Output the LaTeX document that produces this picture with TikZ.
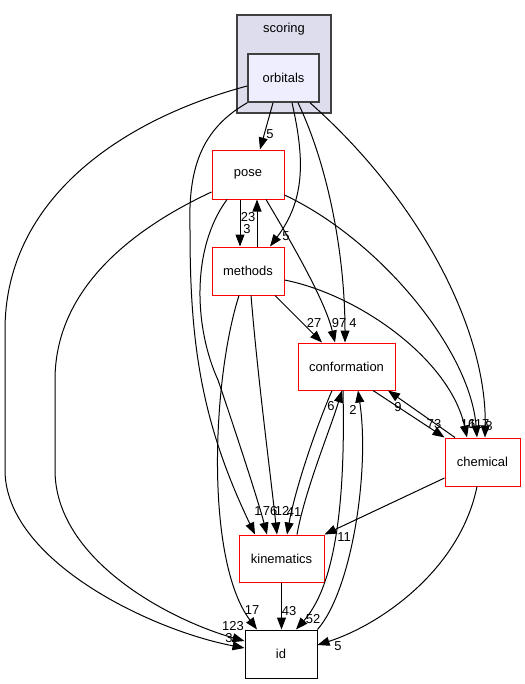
\documentclass[tikz,border=0pt]{standalone}
\usepackage{fontspec}
\setmainfont{Liberation Sans}
\usetikzlibrary{arrows.meta}
\definecolor{clusterfill}{HTML}{DDDDEE}
\definecolor{clusterline}{HTML}{404040}
\definecolor{curfill}{HTML}{EEEEFF}
\definecolor{dirred}{HTML}{FF0000}
\begin{document}
\begin{tikzpicture}[x=1bp,y=-1bp,
  every node/.style={inner sep=0pt, font=\fontsize{13}{15}\selectfont},
  dirbox/.style={draw=dirred, line width=1bp, fill=white, minimum height=48bp},
  plainbox/.style={draw=black, line width=1bp, fill=white, minimum height=48bp},
  curbox/.style={draw=clusterline, line width=1.6bp, fill=curfill, minimum height=48bp},
  clusterbox/.style={draw=clusterline, line width=1.2bp, fill=clusterfill},
  elabel/.style={font=\fontsize{13}{15}\selectfont},
  dep/.style={line width=1bp, -{Triangle[length=12bp,width=9bp]}}
]
\useasboundingbox (0,0) rectangle (525,684);
% cluster
\node[clusterbox, minimum width=94bp, minimum height=98bp] (scoring) at (284,64) {};
\node (scoringlabel) at (284,29) {scoring};
% nodes
\node[curbox, minimum width=71bp] (orbitals) at (283.5,78) {orbitals};
\node[dirbox, minimum width=72bp, minimum height=49bp] (pose) at (248,174.5) {pose};
\node[dirbox, minimum width=72bp] (methods) at (248,271) {methods};
\node[dirbox, minimum width=97bp, minimum height=47bp] (conformation) at (346.5,366.5) {conformation};
\node[dirbox, minimum width=75bp] (chemical) at (482.5,462) {chemical};
\node[dirbox, minimum width=85bp, minimum height=47bp] (kinematics) at (281.5,558.5) {kinematics};
\node[plainbox, minimum width=72bp] (id) at (281,654) {id};

% edges from orbitals
\draw[dep] ([xshift=-10.5bp]orbitals.south) -- ([xshift=12bp]pose.north);
\draw[dep] ([xshift=8.5bp]orbitals.south) .. controls (305,160) and (305,200) .. ([xshift=22bp]methods.north);
\draw[dep] ([xshift=14.5bp]orbitals.south) .. controls (330,170) and (345,260) .. ([xshift=-1.5bp]conformation.north);
\draw[dep] ([xshift=26.5bp]orbitals.south) .. controls (420,200) and (487,330) .. ([xshift=2.5bp]chemical.north);
\draw[dep] (orbitals.south west) .. controls (200,130) and (188,170) .. (190,230)
  .. controls (190,340) and (200,420) .. ([xshift=-26.5bp]kinematics.north);
\draw[dep] ([yshift=-8bp]orbitals.west) .. controls (120,120) and (5,200) .. (5,330)
  -- (5,470) .. controls (5,560) and (150,630) .. ([yshift=6bp]id.west);

% edges from pose
\draw[dep] ([yshift=-17.5bp]pose.west) .. controls (130,230) and (55,290) .. (55,380)
  -- (55,470) .. controls (55,560) and (170,620) .. ([yshift=13bp]id.west);
\draw[dep] ([xshift=-8bp]pose.south) -- ([xshift=-8bp]methods.north);
\draw[dep] ([xshift=18bp]pose.south) .. controls (290,240) and (325,300) .. ([xshift=-11.5bp]conformation.north);
\draw[dep] ([yshift=-20.5bp]pose.east) .. controls (380,240) and (470,350) .. ([xshift=-5.5bp]chemical.north);
\draw[dep] ([xshift=-21bp]pose.south) .. controls (190,250) and (195,330) .. (218,380)
  .. controls (235,430) and (258,500) .. ([xshift=-14.5bp]kinematics.north);

% edges from methods
\draw[dep] ([xshift=9bp]methods.north) -- ([xshift=9bp]pose.south);
\draw[dep] ([xshift=27bp]methods.south) -- ([xshift=-24.5bp]conformation.north);
\draw[dep] ([yshift=-9bp]methods.east) .. controls (360,295) and (450,360) .. ([xshift=-15.5bp]chemical.north);
\draw[dep] ([xshift=3bp]methods.south) .. controls (258,380) and (270,470) .. ([xshift=-4.5bp]kinematics.north);
\draw[dep] ([xshift=-9bp]methods.south) .. controls (212,380) and (205,560) .. ([xshift=-24bp]id.north);

% edges around conformation
\draw[dep] ([xshift=-14.5bp]conformation.south) .. controls (315,430) and (295,490) .. ([xshift=5.5bp]kinematics.north);
\draw[dep] ([xshift=15.5bp]kinematics.north) .. controls (305,490) and (330,430) .. ([xshift=-4.5bp]conformation.south);
\draw[dep] ([xshift=-3.5bp]conformation.south) .. controls (345,480) and (340,580) .. ([xshift=15bp]id.north);
\draw[dep] (id.north east) .. controls (352,590) and (370,470) .. ([xshift=11.5bp]conformation.south);
\draw[dep] ([xshift=26.5bp]conformation.south) -- (chemical.north west);
\draw[dep] ([xshift=-27.5bp]chemical.north) -- ([xshift=41.5bp]conformation.south);

% edges from chemical and kinematics
\draw[dep] ([yshift=-16bp]chemical.west) -- (kinematics.north east);
\draw[dep] ([xshift=-5.5bp]chemical.south) .. controls (460,570) and (380,625) .. ([yshift=9bp]id.east);
\draw[dep] (kinematics.south) -- (kinematics.south |- id.north);

% labels
\node[elabel] (l1) at (270,134) {5};
\node[elabel] (l2) at (286,236) {5};
\node[elabel] (l3) at (248,217) {23};
\node[elabel] (l4) at (247,229) {3};
\node[elabel] (l5) at (314,323) {27};
\node[elabel] (l6) at (339,323) {97};
\node[elabel] (l7) at (353,323) {4};
\node[elabel] (l8) at (331,406) {6};
\node[elabel] (l9) at (353,410) {2};
\node[elabel] (l10) at (398,407) {9};
\node[elabel] (l11) at (434,424) {73};
\node[elabel] (l12) at (468,424) {16};
\node[elabel] (l13) at (479,424) {117};
\node[elabel] (l14) at (489,426) {8};
\node[elabel] (l15) at (258,511) {1};
\node[elabel] (l16) at (270,511) {76};
\node[elabel] (l17) at (282,511) {12};
\node[elabel] (l18) at (294,512) {41};
\node[elabel] (l19) at (344,537) {11};
\node[elabel] (l20) at (252,610) {17};
\node[elabel] (l21) at (289,611) {43};
\node[elabel] (l22) at (313,619) {52};
\node[elabel] (l23) at (338,646) {5};
\node[elabel] (l24) at (233,626) {123};
\node[elabel] (l25) at (229,638) {3};
\end{tikzpicture}
\end{document}
